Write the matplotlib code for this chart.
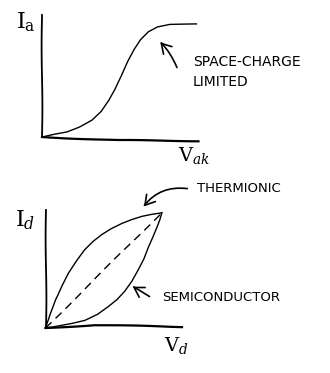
import matplotlib
matplotlib.use("Agg")
import matplotlib.pyplot as plt

# --- data ---
# top: anode current vs anode-cathode voltage (space-charge limited)
vak = [0, 0.8, 1.6, 2.4, 3.2, 3.8, 4.3, 4.7, 5.1, 5.5, 5.9, 6.3, 6.8, 7.4, 8.2, 9.9]
ia = [0, 0.25, 0.45, 0.85, 1.4, 2.1, 3.0, 3.9, 5.0, 6.2, 7.2, 8.0, 8.65, 9.05, 9.24, 9.24]
top_xaxis_x = [0, 4.92, 10.03]
top_xaxis_y = [0, -0.27, -0.32]
top_yaxis_top = 10.0

# bottom: diode current vs diode voltage
therm_v = [0, 0.35, 0.7, 1.2, 1.67, 2.3, 2.89, 3.5, 4.12, 4.8, 5.58, 6.3, 7.05, 7.8, 8.51]
therm_i = [0, 1.3, 2.43, 3.7, 4.76, 5.85, 6.78, 7.5, 8.09, 8.62, 9.10, 9.45, 9.74, 9.92, 10.03]
semi_v = [0, 0.6, 1.19, 2.0, 2.89, 3.8, 4.6, 5.25, 5.82, 6.35, 6.8, 7.2, 7.53, 7.85, 8.15, 8.35, 8.51]
semi_i = [0, 0.12, 0.26, 0.45, 0.70, 1.2, 1.85, 2.45, 3.16, 4.05, 5.04, 6.0, 7.07, 7.95, 8.81, 9.4, 10.03]
ohm_v = [0, 8.51]
ohm_i = [0, 10.03]
bot_xaxis_x = [0, 3.6, 9.3, 10]
bot_xaxis_y = [0, 0.26, 0.11, 0.1]
bot_yaxis_top = 10.26

plt.xkcd(scale=0.4, length=120, randomness=1)
plt.rcParams['font.family'] = ['DejaVu Sans']
plt.rcParams['mathtext.fontset'] = 'dejavuserif'
plt.rcParams['path.effects'] = []

fig = plt.figure(figsize=(3.3, 3.73), dpi=100)
fig.patch.set_facecolor('white')

ink = 'black'

# === top sketch ===
ax1 = fig.add_axes([0.1273, 0.6163, 0.4727, 0.3435])
ax1.set_xlim(0, 10)
ax1.set_ylim(-0.5, 10)
ax1.axis('off')
ax1.plot([0, 0], [0, top_yaxis_top], color=ink, lw=1.3, clip_on=False)
ax1.plot(top_xaxis_x, top_xaxis_y, color=ink, lw=1.6, clip_on=False)
ax1.plot(vak, ia, color=ink, lw=1.0, clip_on=False)
ax1.text(-1.05, 9.45, r'$\mathrm{I}_\mathrm{a}$', fontsize=16, ha='center', va='center')
ax1.text(9.74, -1.5, r'$\mathrm{V}_{ak}$', fontsize=14, ha='center', va='center')
ax1.text(9.68, 6.15, 'SPACE-CHARGE', fontsize=10, ha='left', va='center')
ax1.text(9.68, 4.5, 'LIMITED', fontsize=10, ha='left', va='center')
ax1.annotate('', xy=(7.44, 7.95), xytext=(8.72, 5.49),
             arrowprops=dict(arrowstyle='->,head_length=0.5,head_width=0.3',
                             color=ink, lw=1.2, connectionstyle='arc3,rad=0.1'),
             annotation_clip=False)

# === bottom sketch ===
ax2 = fig.add_axes([0.1379, 0.1052, 0.4136, 0.3392])
ax2.set_xlim(0, 10)
ax2.set_ylim(-0.5, 10.5)
ax2.axis('off')
ax2.plot([0, 0], [0, bot_yaxis_top], color=ink, lw=1.3, clip_on=False)
ax2.plot(bot_xaxis_x, bot_xaxis_y, color=ink, lw=1.6, clip_on=False)
ax2.plot(therm_v, therm_i, color=ink, lw=1.0, clip_on=False)
ax2.plot(semi_v, semi_i, color=ink, lw=1.0, clip_on=False)
ax2.plot(ohm_v, ohm_i, color=ink, lw=1.0, dashes=(6, 4), clip_on=False)
ax2.text(-1.5, 9.4, r'$\mathrm{I}_d$', fontsize=16, ha='center', va='center')
ax2.text(9.56, -1.5, r'$\mathrm{V}_d$', fontsize=14, ha='center', va='center')
ax2.text(11.1, 12.17, 'THERMIONIC', fontsize=9.5, ha='left', va='center')
ax2.text(8.53, 2.61, 'SEMICONDUCTOR', fontsize=9.5, ha='left', va='center')
ax2.annotate('', xy=(7.07, 10.35), xytext=(10.59, 12.09),
             arrowprops=dict(arrowstyle='->,head_length=0.5,head_width=0.3',
                             color=ink, lw=1.2, connectionstyle='arc3,rad=0.3'),
             annotation_clip=False)
ax2.annotate('', xy=(6.19, 3.74), xytext=(7.8, 2.61),
             arrowprops=dict(arrowstyle='->,head_length=0.5,head_width=0.3',
                             color=ink, lw=1.2),
             annotation_clip=False)

fig.savefig('out.png', dpi=100, facecolor='white')
